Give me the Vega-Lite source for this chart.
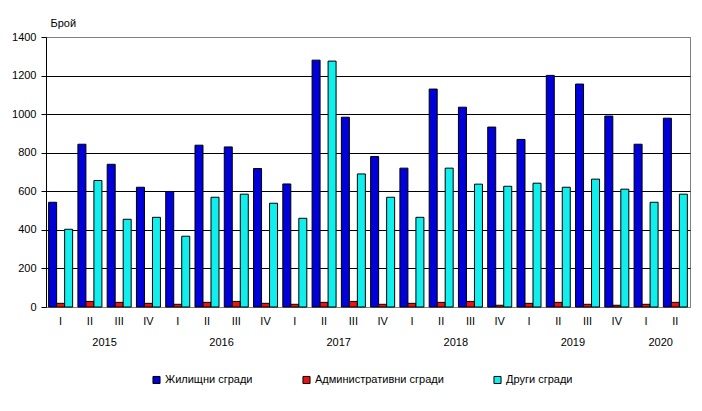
{
  "$schema": "https://vega.github.io/schema/vega-lite/v6.json",
  "width": 644,
  "height": 270,
  "autosize": "none",
  "padding": {"left": 46, "top": 37, "right": 12, "bottom": 104},
  "background": "white",
  "config": {
    "font": "Liberation Sans",
    "view": {"stroke": "#808080", "strokeWidth": 1}
  },
  "data": {
    "values": [
      {"p": "2015-I", "Жилищни сгради": 543, "Административни сгради": 19, "Други сгради": 403},
      {"p": "2015-II", "Жилищни сгради": 844, "Административни сгради": 29, "Други сгради": 656},
      {"p": "2015-III", "Жилищни сгради": 740, "Административни сгради": 24, "Други сгради": 455},
      {"p": "2015-IV", "Жилищни сгради": 621, "Административни сгради": 19, "Други сгради": 465},
      {"p": "2016-I", "Жилищни сгради": 599, "Административни сгради": 14, "Други сгради": 367},
      {"p": "2016-II", "Жилищни сгради": 839, "Административни сгради": 24, "Други сгради": 569},
      {"p": "2016-III", "Жилищни сгради": 830, "Административни сгради": 29, "Други сгради": 585},
      {"p": "2016-IV", "Жилищни сгради": 718, "Административни сгради": 19, "Други сгради": 538},
      {"p": "2017-I", "Жилищни сгради": 638, "Административни сгради": 14, "Други сгради": 460},
      {"p": "2017-II", "Жилищни сгради": 1280, "Административни сгради": 24, "Други сгради": 1275},
      {"p": "2017-III", "Жилищни сгради": 984, "Административни сгради": 29, "Други сгради": 690},
      {"p": "2017-IV", "Жилищни сгради": 780, "Административни сгради": 14, "Други сгради": 569},
      {"p": "2018-I", "Жилищни сгради": 720, "Административни сгради": 19, "Други сгради": 465},
      {"p": "2018-II", "Жилищни сгради": 1130, "Административни сгради": 24, "Други сгради": 720},
      {"p": "2018-III", "Жилищни сгради": 1036, "Административни сгради": 29, "Други сгради": 637},
      {"p": "2018-IV", "Жилищни сгради": 933, "Административни сгради": 9, "Други сгради": 626},
      {"p": "2019-I", "Жилищни сгради": 869, "Административни сгради": 19, "Други сгради": 642},
      {"p": "2019-II", "Жилищни сгради": 1201, "Административни сгради": 24, "Други сгради": 621},
      {"p": "2019-III", "Жилищни сгради": 1156, "Административни сгради": 14, "Други сгради": 663},
      {"p": "2019-IV", "Жилищни сгради": 990, "Административни сгради": 9, "Други сгради": 611},
      {"p": "2020-I", "Жилищни сгради": 844, "Административни сгради": 14, "Други сгради": 543},
      {"p": "2020-II", "Жилищни сгради": 979, "Административни сгради": 24, "Други сгради": 585}
    ]
  },
  "transform": [
    {"fold": ["Жилищни сгради", "Административни сгради", "Други сгради"], "as": ["series", "value"]}
  ],
  "encoding": {
    "y": {
      "field": "value", "type": "quantitative", "stack": null,
      "scale": {"domain": [0, 1400], "nice": false},
      "axis": {
        "values": [0, 200, 400, 600, 800, 1000, 1200, 1400],
        "format": "d", "labelOverlap": false, "labelFlush": false,
        "title": "Брой", "titleAngle": 0, "titleAlign": "left",
        "titleBaseline": "alphabetic", "titleX": 4, "titleY": -11,
        "titleFontSize": 11, "titleFontWeight": "normal", "titleColor": "black",
        "labelFontSize": 11, "labelColor": "black", "labelPadding": 5,
        "domainColor": "black", "tickColor": "black", "tickSize": 5,
        "grid": true,
        "gridColor": {"condition": {"test": "datum.value == 1400 || datum.value == 0", "value": "#808080"}, "value": "black"},
        "gridOpacity": 1
      }
    }
  },
  "layer": [
    {
      "mark": {"type": "bar", "stroke": "black", "strokeWidth": 1},
      "encoding": {
        "x": {
          "field": "p", "type": "nominal", "sort": null,
          "scale": {"paddingInner": 0.18, "paddingOuter": 0.09},
          "axis": {
            "title": null, "orient": "bottom",
            "labelExpr": "split(datum.value, '-')[1]",
            "labelAngle": 0, "ticks": false, "grid": false,
            "domainColor": "#808080", "labelPadding": 8,
            "labelFontSize": 11, "labelColor": "black", "labelOverlap": false
          }
        },
        "xOffset": {
          "field": "series", "type": "nominal",
          "sort": ["Жилищни сгради", "Административни сгради", "Други сгради"],
          "scale": {"paddingInner": 0, "paddingOuter": 0}
        },
        "color": {
          "field": "series", "type": "nominal",
          "sort": ["Жилищни сгради", "Административни сгради", "Други сгради"],
          "scale": {
            "domain": ["Жилищни сгради", "Административни сгради", "Други сгради"],
            "range": ["#0000D8", "#EE1111", "#11EEEE"]
          },
          "legend": {
            "title": null, "orient": "none", "legendX": 105, "legendY": 337,
            "direction": "horizontal", "symbolType": "square", "symbolSize": 50,
            "symbolStrokeColor": "black", "symbolStrokeWidth": 1,
            "labelFontSize": 11, "labelColor": "black", "columnPadding": 47, "labelOffset": 3
          }
        }
      }
    },
    {
      "mark": {"type": "bar", "opacity": 0},
      "encoding": {
        "x": {
          "field": "p", "type": "nominal", "sort": null,
          "axis": {
            "title": null, "orient": "bottom",
            "labelExpr": "(split(datum.value, '-')[1] == 'II' && split(datum.value, '-')[0] != '2020') || datum.value == '2020-I' ? split(datum.value, '-')[0] : ''",
            "labelOffset": 14.6, "labelPadding": 29, "labelAngle": 0,
            "ticks": false, "domain": false, "grid": false,
            "labelFontSize": 11, "labelColor": "black", "labelOverlap": false
          }
        }
      }
    }
  ],
  "resolve": {"axis": {"x": "independent"}}
}
